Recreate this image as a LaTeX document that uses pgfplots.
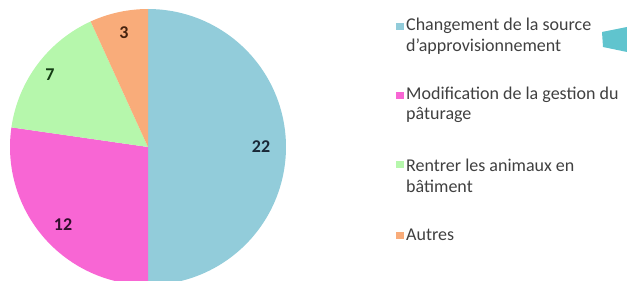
\documentclass[border=0pt]{standalone}
\usepackage{pgfplots}
\pgfplotsset{compat=1.18}
\usepackage{fontspec}
\setmainfont{Carlito}
\definecolor{cA}{RGB}{146,204,218}
\definecolor{cB}{RGB}{248,102,212}
\definecolor{cC}{RGB}{182,247,172}
\definecolor{cD}{RGB}{249,172,122}
\definecolor{cT}{RGB}{96,196,206}
\definecolor{txt}{RGB}{64,64,64}
\begin{document}
\begin{tikzpicture}
% values
\def\vA{22}\def\vB{12}\def\vC{7}\def\vD{3}
\pgfmathsetmacro{\tot}{\vA+\vB+\vC+\vD}
\pgfmathsetmacro{\aA}{90}
\pgfmathsetmacro{\aB}{\aA-360*\vA/\tot}
\pgfmathsetmacro{\aC}{\aB-360*\vB/\tot}
\pgfmathsetmacro{\aD}{\aC-360*\vC/\tot}
\pgfmathsetmacro{\aE}{\aD-360*\vD/\tot}
\def\cx{148}\def\cy{134}\def\r{138}
\begin{axis}[scale only axis, width=627pt, height=281pt,
  xmin=0, xmax=627, ymin=0, ymax=281, hide axis, clip=true]
\addplot[fill=cA, draw=none, domain=\aB:\aA, samples=90] ({\cx+\r*cos(x)},{\cy+\r*sin(x)}) -- (\cx,\cy) -- cycle;
\addplot[fill=cB, draw=none, domain=\aC:\aB, samples=60] ({\cx+\r*cos(x)},{\cy+\r*sin(x)}) -- (\cx,\cy) -- cycle;
\addplot[fill=cC, draw=none, domain=\aD:\aC, samples=40] ({\cx+\r*cos(x)},{\cy+\r*sin(x)}) -- (\cx,\cy) -- cycle;
\addplot[fill=cD, draw=none, domain=\aE:\aD, samples=20] ({\cx+\r*cos(x)},{\cy+\r*sin(x)}) -- (\cx,\cy) -- cycle;
\addplot[fill=cT, draw=none] coordinates {(602,249) (627,254) (627,229) (603,234)} -- cycle;
\node[font=\fontsize{18}{20}\selectfont\bfseries, text={rgb,255:red,25;green,40;blue,55}] at (261,134) {22};
\node[font=\fontsize{18}{20}\selectfont\bfseries, text={rgb,255:red,50;green,15;blue,45}] at (63,56) {12};
\node[font=\fontsize{18}{20}\selectfont\bfseries, text={rgb,255:red,20;green,60;blue,20}] at (50,206) {7};
\node[font=\fontsize{18}{20}\selectfont\bfseries, text={rgb,255:red,70;green,35;blue,15}] at (124,248) {3};
% legend
\fill[cA] (396,251) rectangle (404,258);
\fill[cB] (396,182) rectangle (404,189);
\fill[cC] (396,113) rectangle (404,120);
\fill[cD] (396,42) rectangle (404,49);
\node[anchor=base west, inner sep=0pt, text=txt, font=\fontsize{18}{20}\selectfont] at (406,250) {Changement de la source};
\node[anchor=base west, inner sep=0pt, text=txt, font=\fontsize{18}{20}\selectfont] at (406,229) {d'approvisionnement};
\node[anchor=base west, inner sep=0pt, text=txt, font=\fontsize{18}{20}\selectfont] at (406,181) {Modification de la gestion du};
\node[anchor=base west, inner sep=0pt, text=txt, font=\fontsize{18}{20}\selectfont] at (406,161) {pâturage};
\node[anchor=base west, inner sep=0pt, text=txt, font=\fontsize{18}{20}\selectfont] at (406,109) {Rentrer les animaux en};
\node[anchor=base west, inner sep=0pt, text=txt, font=\fontsize{18}{20}\selectfont] at (406,88) {bâtiment};
\node[anchor=base west, inner sep=0pt, text=txt, font=\fontsize{18}{20}\selectfont] at (406,40) {Autres};
\end{axis}
\pgfresetboundingbox
\path (current axis.south west) rectangle (current axis.north east);
\end{tikzpicture}
\end{document}
